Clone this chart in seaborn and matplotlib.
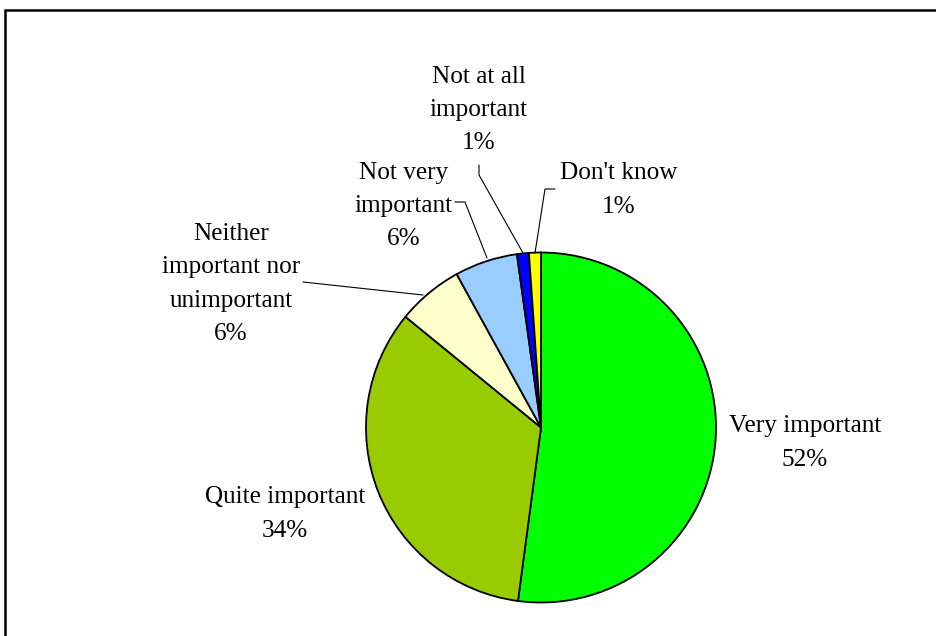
import matplotlib
matplotlib.use("Agg")
import matplotlib.pyplot as plt
import matplotlib.patches as mpatches
import seaborn as sns

# data
categories = ["Very important", "Quite important", "Neither important nor unimportant",
              "Not very important", "Not at all important", "Don't know"]
shares = [52.1, 33.8, 6.1, 5.8, 1.1, 1.1]
label_texts = ["Very important", "Quite important", "Neither\nimportant nor\nunimportant",
               "Not very\nimportant", "Not at all\nimportant", "Don't know"]
colors = ["#00FF00", "#99CC00", "#FFFFCC", "#99CCFF", "#0000FF", "#FFFF00"]

sns.set_theme(style="white")
plt.rcParams['font.family'] = ['Liberation Serif', 'DejaVu Serif']

W, H = 936, 636
fig = plt.figure(figsize=(W / 100, H / 100), dpi=100)
ax = fig.add_axes([0, 0, 1, 1])


def Y(y):
    # pixel row from top -> axis coordinate
    return H - y


ax.pie(shares, colors=colors, startangle=90, counterclock=False,
       center=(541, Y(427.5)), radius=175,
       wedgeprops=dict(edgecolor="black", linewidth=1.3))

ax.set_xlim(0, W)
ax.set_ylim(0, H)
ax.set_aspect("equal")
ax.axis("off")

# label block centres (pixels)
label_pos = [(805, 443), (285, 514), (231, 284), (404, 206), (479, 110), (619, 190)]
for txt, val, (x, y) in zip(label_texts, shares, label_pos):
    ax.text(x, Y(y), f"{txt}\n{round(val):.0f}%", ha="center", va="center",
            fontsize=18.2, linespacing=1.65, color="black")

# leader lines
leaders = [
    [(303, 282), (423, 295)],
    [(455, 202), (465, 202), (487, 258)],
    [(479, 165), (479, 175), (523, 253)],
    [(555, 189), (545, 189), (535, 253)],
]
for pts in leaders:
    xs = [p[0] for p in pts]
    ys = [Y(p[1]) for p in pts]
    ax.plot(xs, ys, color="black", linewidth=0.8)

# outer chart frame
ax.add_patch(mpatches.Rectangle((5, Y(10) - 700), 1000, 700, fill=False,
                                edgecolor="black", linewidth=1.8))

fig.savefig("out.png", dpi=100)
